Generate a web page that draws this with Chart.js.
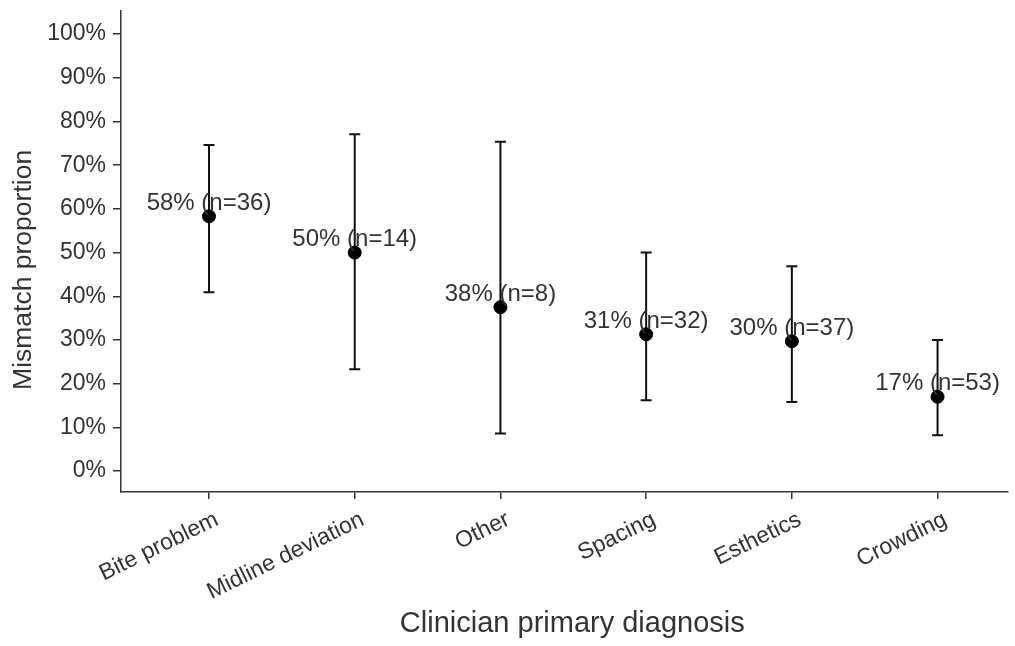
<!DOCTYPE html>
<html>
<head>
<meta charset="utf-8">
<script src="https://cdn.jsdelivr.net/npm/chart.js@4.4.1/dist/chart.umd.min.js"></script>
<style>
  body { margin: 0; background: #fff; overflow: hidden; }
  #wrap { width: 1015px; height: 646px; position: relative; }
</style>
</head>
<body>
<div id="wrap"><canvas id="mismatchChart"></canvas></div>
<script>
// data
const categories = ['Bite problem', 'Midline deviation', 'Other', 'Spacing', 'Esthetics', 'Crowding'];
const proportion = [58.3, 50.0, 37.5, 31.3, 29.7, 17.0];
const lowerCI = [40.9, 23.3, 8.6, 16.2, 15.8, 8.2];
const upperCI = [74.6, 77.1, 75.4, 50.0, 46.9, 30.0];
const sampleSize = [36, 14, 8, 32, 37, 53];
const yTicks = [0, 10, 20, 30, 40, 50, 60, 70, 80, 90, 100];

const textColor = '#333';
Chart.defaults.font.family = '"Liberation Sans", Arial, sans-serif';
Chart.defaults.color = textColor;

// error bars + "58% (n=36)" labels, positioned through the chart scales
const errorBarPlugin = {
    id: 'errorBars',
    beforeDatasetsDraw(chart) {
        const ctx = chart.ctx;
        const xs = chart.scales.x, ys = chart.scales.y;
        ctx.save();
        ctx.strokeStyle = '#111';
        ctx.lineWidth = 2;
        categories.forEach((c, i) => {
            const px = xs.getPixelForValue(i + 1);
            const top = ys.getPixelForValue(upperCI[i]);
            const bot = ys.getPixelForValue(lowerCI[i]);
            ctx.beginPath();
            ctx.moveTo(px, top); ctx.lineTo(px, bot);
            ctx.moveTo(px - 5.5, top); ctx.lineTo(px + 5.5, top);
            ctx.moveTo(px - 5.5, bot); ctx.lineTo(px + 5.5, bot);
            ctx.stroke();
        });
        ctx.restore();
    },
    afterDatasetsDraw(chart) {
        const ctx = chart.ctx;
        const xs = chart.scales.x, ys = chart.scales.y;
        ctx.save();
        ctx.font = '24px "Liberation Sans", Arial, sans-serif';
        ctx.fillStyle = textColor;
        ctx.textAlign = 'center';
        ctx.textBaseline = 'middle';
        categories.forEach((c, i) => {
            const px = xs.getPixelForValue(i + 1);
            const py = ys.getPixelForValue(proportion[i]);
            ctx.fillText(Math.round(proportion[i]) + '% (n=' + sampleSize[i] + ')', px, py - 13);
        });
        ctx.restore();
    }
};

new Chart(document.getElementById('mismatchChart'), {
    type: 'scatter',
    data: {
        datasets: [{
            data: proportion.map((v, i) => ({ x: i + 1, y: v })),
            backgroundColor: '#000',
            borderColor: '#000',
            pointRadius: 6.5,
            pointHoverRadius: 6.5,
            showLine: false
        }]
    },
    options: {
        responsive: true,
        maintainAspectRatio: false,
        animation: false,
        layout: { padding: { top: 11, right: 0, left: 0, bottom: 0 } },
        plugins: {
            legend: { display: false },
            tooltip: { enabled: false }
        },
        scales: {
            x: {
                type: 'linear',
                min: 0.396,
                max: 6.48,
                bounds: 'data',
                afterBuildTicks: s => { s.ticks = categories.map((c, i) => ({ value: i + 1 })); },
                afterFit: s => { s.height = 154; s.paddingLeft = 0; s.paddingRight = 0; },
                border: { display: true, color: '#333', width: 1.5 },
                grid: { drawOnChartArea: false, drawTicks: true, tickLength: 7, color: '#333', lineWidth: 1.5 },
                ticks: {
                    callback: v => categories[v - 1],
                    minRotation: 26,
                    maxRotation: 26,
                    autoSkip: false,
                    padding: 7,
                    labelOffset: 8,
                    font: { size: 23 }
                },
                title: {
                    display: true,
                    text: '  Clinician primary diagnosis',
                    font: { size: 29 },
                    padding: { top: 0, bottom: 5 }
                }
            },
            y: {
                min: -4.8,
                max: 105.3,
                bounds: 'data',
                afterBuildTicks: s => { s.ticks = yTicks.map(v => ({ value: v })); },
                afterFit: s => { s.width = 121; s.paddingTop = 0; s.paddingBottom = 0; },
                border: { display: true, color: '#333', width: 1.5 },
                grid: { drawOnChartArea: false, drawTicks: true, tickLength: 8, color: '#333', lineWidth: 1.5 },
                ticks: {
                    callback: v => v + '%',
                    padding: 7,
                    font: { size: 23 }
                },
                title: {
                    display: true,
                    text: 'Mismatch proportion     ',
                    font: { size: 26.5 },
                    padding: { top: 8, bottom: 0 }
                }
            }
        }
    },
    plugins: [errorBarPlugin]
});
</script>
</body>
</html>
